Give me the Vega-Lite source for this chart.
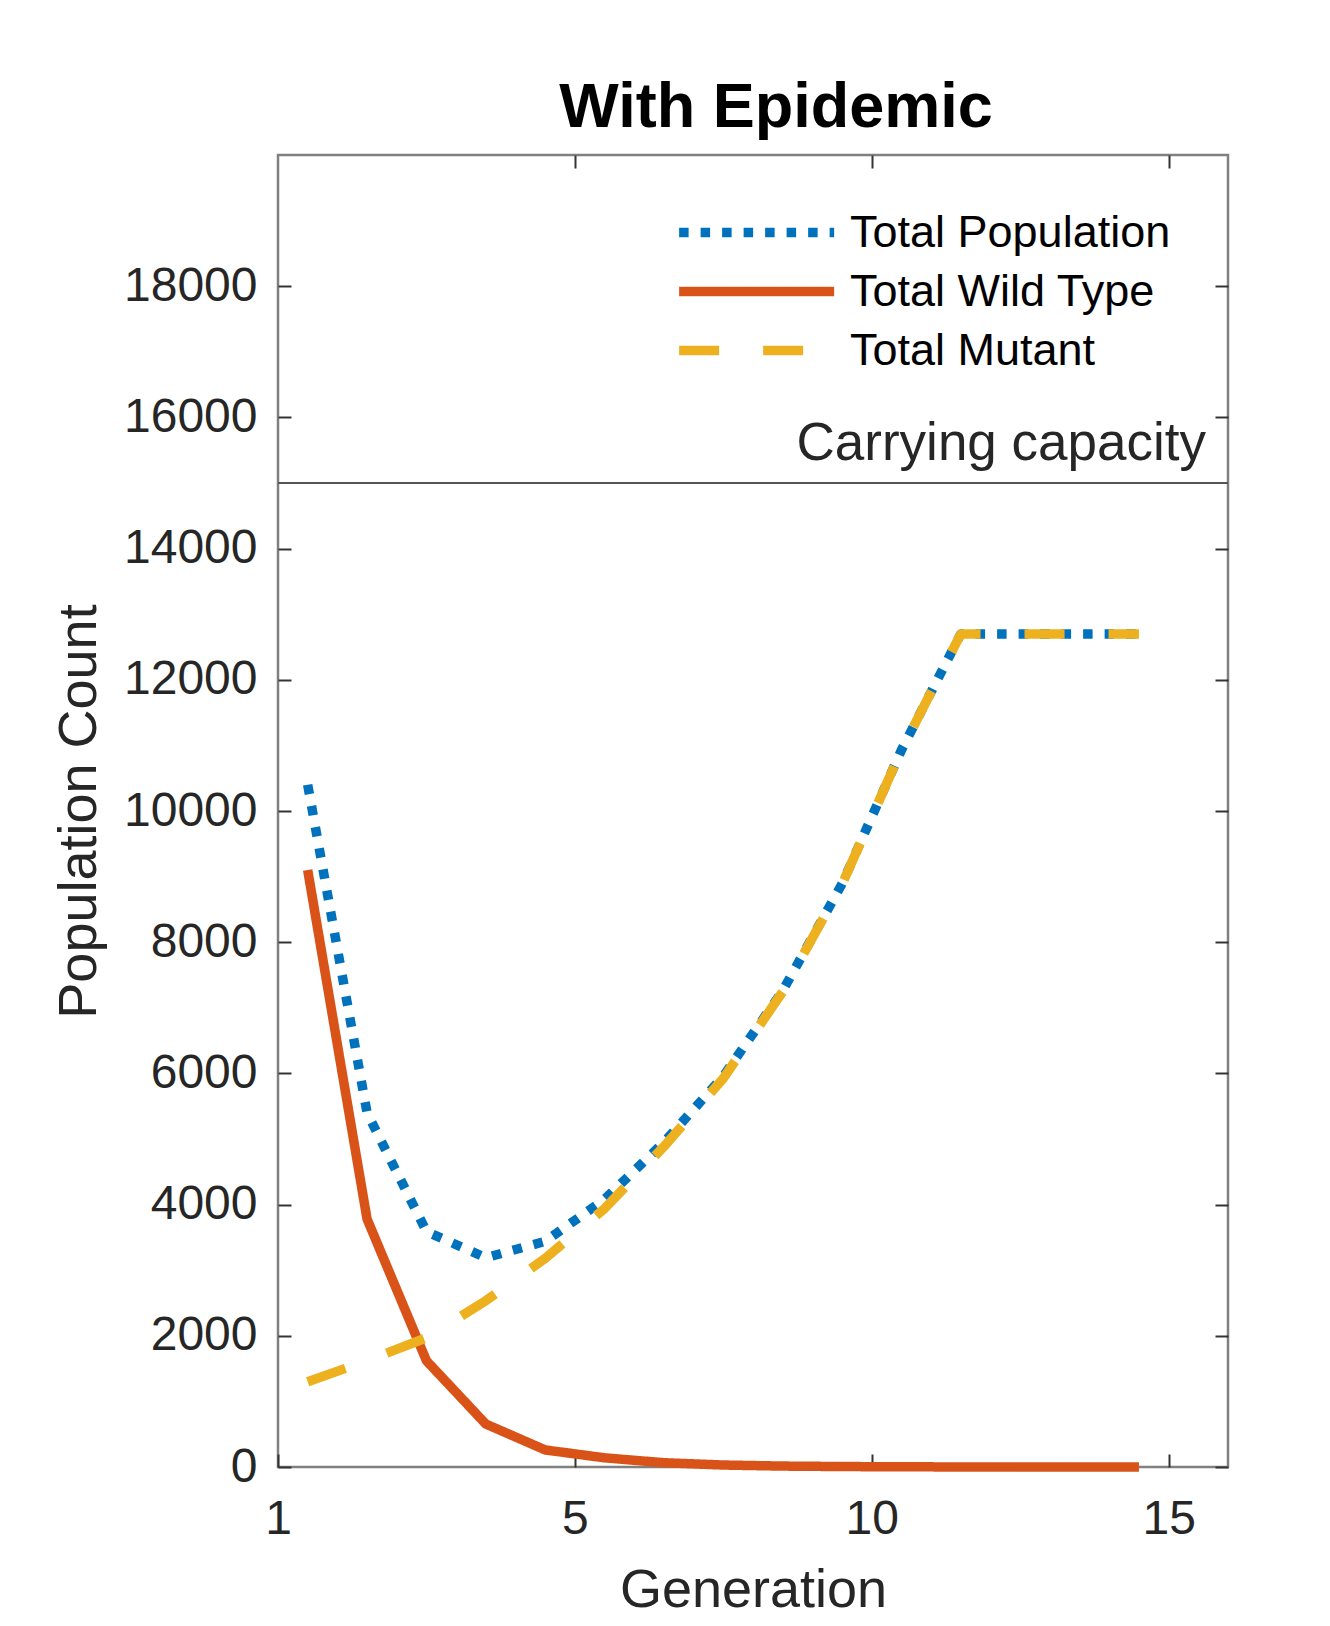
{
  "$schema": "https://vega.github.io/schema/vega-lite/v6.json",
  "width": 950,
  "height": 1312,
  "autosize": "none",
  "padding": {"left": 278, "top": 155, "right": 102, "bottom": 159},
  "background": "white",
  "title": {"text": "With Epidemic", "fontSize": 63, "fontWeight": "bold", "font": "Liberation Sans", "color": "black", "anchor": "middle", "dx": 23, "offset": -36, "baseline": "alphabetic", "frame": "group"},
  "config": {
    "view": {"stroke": "#808080", "strokeWidth": 2.5},
    "axis": {"domain": false, "grid": false, "tickSize": -13, "tickColor": "#333333", "tickWidth": 2, "labelFont": "Liberation Sans", "labelFontSize": 48, "labelColor": "#262626", "titleFont": "Liberation Sans", "titleFontSize": 54, "titleFontWeight": "normal", "titleColor": "#262626"},
    "legend": {"orient": "none", "legendX": 396, "legendY": 53, "padding": 0, "labelFont": "Liberation Sans", "labelFontSize": 45, "labelColor": "#000000", "labelLimit": 0, "symbolType": "M-1,0L7,0", "symbolSize": 1502, "symbolStrokeWidth": 9.5, "labelOffset": 127, "rowPadding": 11}
  },
  "resolve": {"axis": {"x": "independent", "y": "independent"}},
  "layer": [
    {
      "data": {"values": [{"cap": 15000}]},
      "mark": {"type": "rule", "color": "#555555", "strokeWidth": 2},
      "encoding": {
        "y": {"field": "cap", "type": "quantitative", "scale": {"domain": [0, 20000], "nice": false},
              "axis": {"orient": "right", "values": [0, 2000, 4000, 6000, 8000, 10000, 12000, 14000, 16000, 18000], "labels": false, "title": null}}
      }
    },
    {
      "data": {"values": [{"cap": 15000, "label": "Carrying capacity", "xpos": 16}]},
      "mark": {"type": "text", "align": "right", "baseline": "alphabetic", "dx": -22, "dy": -23, "fontSize": 53, "font": "Liberation Sans", "color": "#262626"},
      "encoding": {
        "x": {"field": "xpos", "type": "quantitative", "scale": {"domain": [0, 16], "nice": false, "zero": false},
              "axis": {"orient": "top", "values": [5, 10, 15], "labels": false, "title": null}},
        "y": {"field": "cap", "type": "quantitative", "scale": {"domain": [0, 20000], "nice": false}, "axis": null},
        "text": {"field": "label"}
      }
    },
    {
      "data": {"values": [
        {"gen": 0.5, "series": "Total Population", "count": 10400},
        {"gen": 1.5, "series": "Total Population", "count": 5400},
        {"gen": 2.5, "series": "Total Population", "count": 3590},
        {"gen": 3.5, "series": "Total Population", "count": 3190},
        {"gen": 4.5, "series": "Total Population", "count": 3440},
        {"gen": 5.5, "series": "Total Population", "count": 4080},
        {"gen": 6.5, "series": "Total Population", "count": 4950},
        {"gen": 7.5, "series": "Total Population", "count": 5955},
        {"gen": 8.5, "series": "Total Population", "count": 7260},
        {"gen": 9.5, "series": "Total Population", "count": 8890},
        {"gen": 10.5, "series": "Total Population", "count": 10930},
        {"gen": 11.5, "series": "Total Population", "count": 12700},
        {"gen": 12.5, "series": "Total Population", "count": 12700},
        {"gen": 13.5, "series": "Total Population", "count": 12700},
        {"gen": 14.5, "series": "Total Population", "count": 12700},
        {"gen": 0.5, "series": "Total Wild Type", "count": 9100},
        {"gen": 1.5, "series": "Total Wild Type", "count": 3780},
        {"gen": 2.5, "series": "Total Wild Type", "count": 1620},
        {"gen": 3.5, "series": "Total Wild Type", "count": 655},
        {"gen": 4.5, "series": "Total Wild Type", "count": 260},
        {"gen": 5.5, "series": "Total Wild Type", "count": 140},
        {"gen": 6.5, "series": "Total Wild Type", "count": 65},
        {"gen": 7.5, "series": "Total Wild Type", "count": 30},
        {"gen": 8.5, "series": "Total Wild Type", "count": 14},
        {"gen": 9.5, "series": "Total Wild Type", "count": 7},
        {"gen": 10.5, "series": "Total Wild Type", "count": 3},
        {"gen": 11.5, "series": "Total Wild Type", "count": 1},
        {"gen": 12.5, "series": "Total Wild Type", "count": 0},
        {"gen": 13.5, "series": "Total Wild Type", "count": 0},
        {"gen": 14.5, "series": "Total Wild Type", "count": 0},
        {"gen": 0.5, "series": "Total Mutant", "count": 1300},
        {"gen": 1.5, "series": "Total Mutant", "count": 1620},
        {"gen": 2.5, "series": "Total Mutant", "count": 1970},
        {"gen": 3.5, "series": "Total Mutant", "count": 2535},
        {"gen": 4.5, "series": "Total Mutant", "count": 3180},
        {"gen": 5.5, "series": "Total Mutant", "count": 3940},
        {"gen": 6.5, "series": "Total Mutant", "count": 4885},
        {"gen": 7.5, "series": "Total Mutant", "count": 5925},
        {"gen": 8.5, "series": "Total Mutant", "count": 7246},
        {"gen": 9.5, "series": "Total Mutant", "count": 8883},
        {"gen": 10.5, "series": "Total Mutant", "count": 10927},
        {"gen": 11.5, "series": "Total Mutant", "count": 12699},
        {"gen": 12.5, "series": "Total Mutant", "count": 12700},
        {"gen": 13.5, "series": "Total Mutant", "count": 12700},
        {"gen": 14.5, "series": "Total Mutant", "count": 12700}
      ]},
      "mark": {"type": "line", "strokeWidth": 9.5, "strokeCap": "butt", "strokeJoin": "round"},
      "encoding": {
        "x": {"field": "gen", "type": "quantitative", "scale": {"domain": [0, 16], "nice": false, "zero": false},
              "axis": {"values": [0, 5, 10, 15], "labelExpr": "datum.value == 0 ? '1' : datum.label", "labelFlush": false, "title": "Generation", "labelPadding": 41, "titlePadding": 20}},
        "y": {"field": "count", "type": "quantitative", "scale": {"domain": [0, 20000], "nice": false},
              "axis": {"values": [0, 2000, 4000, 6000, 8000, 10000, 12000, 14000, 16000, 18000], "format": "d", "title": "Population Count", "labelPadding": 34, "titlePadding": 17}},
        "color": {"field": "series", "type": "nominal", "scale": {"domain": ["Total Population", "Total Wild Type", "Total Mutant"], "range": ["#0072BD", "#D95319", "#EDB120"]}, "legend": {"title": null}},
        "strokeDash": {"field": "series", "type": "nominal", "scale": {"domain": ["Total Population", "Total Wild Type", "Total Mutant"], "range": [[9.5, 12], [1, 0], [40, 44]]}, "legend": {"title": null}}
      }
    }
  ]
}
